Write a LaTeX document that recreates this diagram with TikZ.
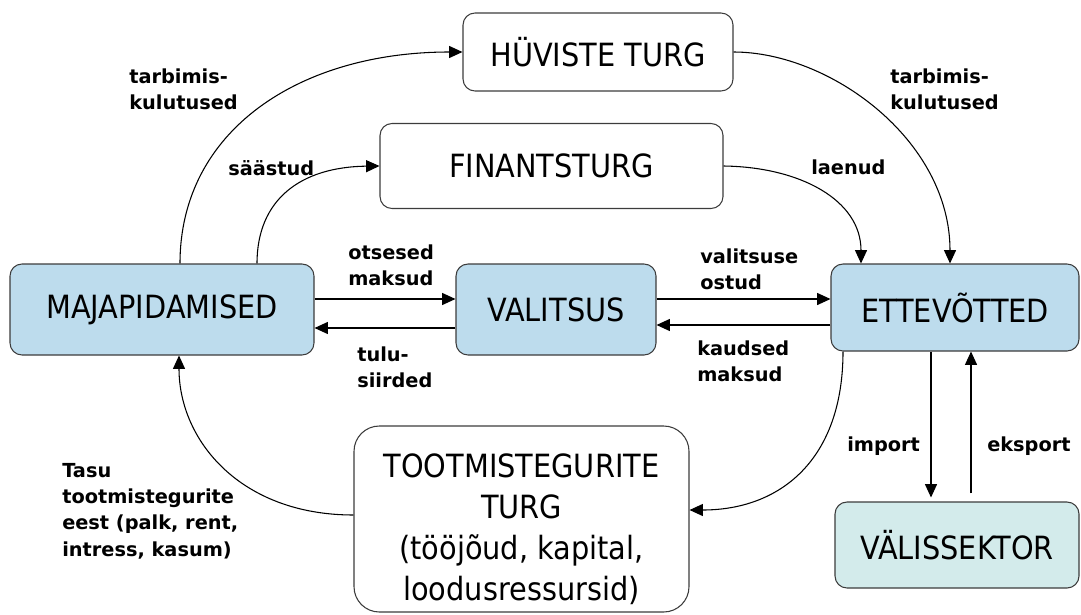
\documentclass[tikz,border=0pt]{standalone}
\usepackage{fontspec}
\setmainfont{DejaVu Sans}
\newfontfamily\boxfont{DejaVu Sans}[FakeStretch=0.9]
\usetikzlibrary{arrows.meta}
\definecolor{boxblue}{RGB}{189,220,237}
\definecolor{boxteal}{RGB}{211,235,235}
\definecolor{boxgray}{RGB}{60,60,60}
\tikzset{
  flow/.style={draw=black, line width=0.8pt, -{Triangle[length=10pt,width=9pt]}},
  box/.style={draw=boxgray, line width=0.8pt, rounded corners=9pt, inner sep=0pt,
    font=\boxfont\fontsize{24}{30.75}\selectfont},
  boxtext/.style={inner sep=0pt, align=center, font=\boxfont\fontsize{24}{30.75}\selectfont},
  lab/.style={font=\bfseries\fontsize{14.5}{19.8}\selectfont, align=left, inner sep=0pt, anchor=west},
}
\begin{document}
\begin{tikzpicture}[x=0.75pt,y=-0.75pt]
\useasboundingbox (0,0) rectangle (1081,614);

% boxes
\node[box, minimum width=270*0.75pt, minimum height=78*0.75pt] (HUV) at (598,52) {HÜVISTE TURG};
\node[box, minimum width=343*0.75pt, minimum height=85*0.75pt] (FIN) at (551.5,166) {FINANTSTURG};
\node[box, fill=boxblue, minimum width=304*0.75pt, minimum height=91*0.75pt] (MAJ) at (162,309.5) {MAJAPIDAMISED};
\node[box, fill=boxblue, minimum width=200*0.75pt, minimum height=91*0.75pt] (VAL) at (556,309.5) {VALITSUS};
\node[box, fill=boxblue, minimum width=248*0.75pt, minimum height=87*0.75pt] (ETT) at (955,307.5) {ETTEVÕTTED};
\node[box, fill=boxteal, minimum width=244*0.75pt, minimum height=86*0.75pt] (VSK) at (957,545) {VÄLISSEKTOR};
\node[box, rounded corners=19pt, minimum width=335*0.75pt, minimum height=186*0.75pt] (TOOT) at (521.5,519) {};
\node[boxtext] (TOOTtxt) at (521.5,529) {TOOTMISTEGURITE\\TURG\\(tööjõud, kapital,\\loodusressursid)};

% connectors
\draw[flow] (180,0 |- MAJ.north) .. controls (180,130) and (300,52) .. (HUV.west);
\draw[flow] (257,0 |- MAJ.north) .. controls (257,200) and (300,167) .. (FIN.west);
\draw[flow] (HUV.east) .. controls (830,52) and (950,140) .. (950,0 |- ETT.north);
\draw[flow] (FIN.east) .. controls (800,167) and (861,200) .. (861,0 |- ETT.north);
\draw[flow] (MAJ.east |- 0,299) -- (VAL.west |- 0,299);
\draw[flow] (VAL.east |- 0,299) -- (ETT.west |- 0,299);
\draw[flow] (ETT.west |- 0,325) -- (VAL.east |- 0,325);
\draw[flow] (VAL.west |- 0,328) -- (MAJ.east |- 0,328);
\draw[flow] (843,0 |- ETT.south) .. controls (843,460) and (780,510) .. (TOOT.east |- 0,510);
\draw[flow] (TOOT.west |- 0,515) .. controls (240,515) and (179,440) .. (179,0 |- MAJ.south);
\draw[flow, shorten >=4*0.75pt] (931,0 |- ETT.south) -- (931,0 |- VSK.north);
\draw[flow, shorten <=8*0.75pt] (971,0 |- VSK.north) -- (971,0 |- ETT.south);

% labels
\node[lab] (l1) at (129,89.5) {tarbimis-\\kulutused};
\node[lab] (l2) at (890,89.5) {tarbimis-\\kulutused};
\node[lab] (l3) at (228,168) {säästud};
\node[lab] (l4) at (811,167) {laenud};
\node[lab] (l5) at (348,265) {otsesed\\maksud};
\node[lab] (l6) at (700,269.5) {valitsuse\\ostud};
\node[lab] (l7) at (357,367.5) {tulu-\\siirded};
\node[lab] (l8) at (697,361.5) {kaudsed\\maksud};
\node[lab] (l9) at (62,511) {Tasu\\tootmistegurite\\eest (palk, rent,\\intress, kasum)};
\node[lab] (l10) at (847,446) {import};
\node[lab] (l11) at (987,446) {eksport};
\end{tikzpicture}
\end{document}
